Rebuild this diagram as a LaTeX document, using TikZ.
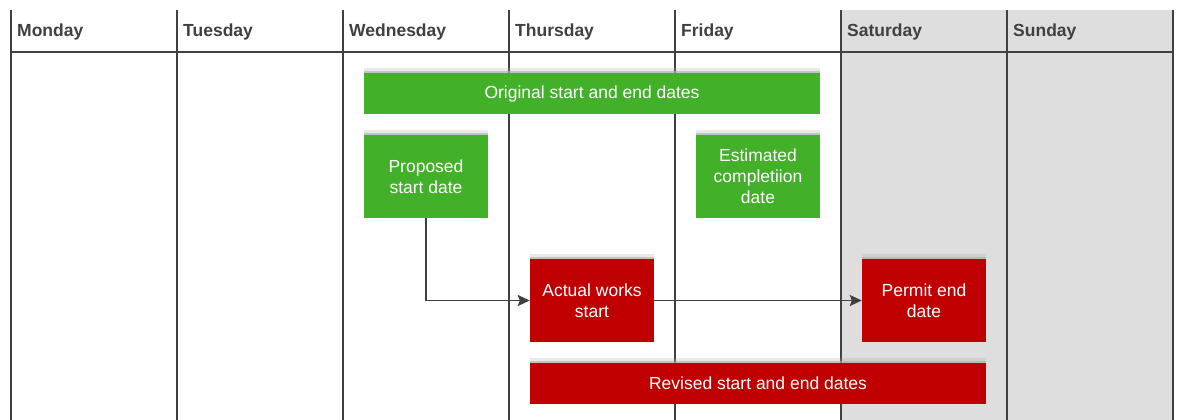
\documentclass[tikz,border=0pt]{standalone}
\usepackage{fontspec}
\setmainfont{Liberation Sans}
\usetikzlibrary{arrows.meta}
\definecolor{ln}{HTML}{404040}
\definecolor{grn}{HTML}{43B02A}
\definecolor{rd}{HTML}{C00000}
\definecolor{wkend}{HTML}{DEDEDE}
\definecolor{shd}{HTML}{AAAAAA}
\tikzset{
  grid/.style={draw=ln,line width=1.3pt},
  day/.style={anchor=base west,text=ln,font=\fontsize{17.5}{21}\selectfont\bfseries,inner sep=0pt},
  box/.style={inner sep=0pt,text=white,align=center,font=\fontsize{17.5}{21}\selectfont},
  gbox/.style={box,fill=grn},
  rbox/.style={box,fill=rd},
  flowarrow/.style={draw=ln,line width=1.8pt,arrows={-Stealth[length=12pt,width=11pt,inset=2pt]}},
  shadowouter/.style={draw=shd,line width=5pt,opacity=0.25},
  shadowinner/.style={draw=shd,line width=2pt,opacity=0.6}
}
\begin{document}
\begin{tikzpicture}[x=1pt,y=1pt]
\useasboundingbox (0,0) rectangle (1178,-420);
\fill[white] (0,0) rectangle (1178,-420);
\fill[wkend] (841,-10) rectangle (1173,-420);
\foreach \x in {11,177,343,509,675,841,1007,1173}
  \draw[grid] (\x,-10) -- (\x,-420);
\draw[grid] (11,-52) -- (1173,-52);
\node[day] (mon) at (17,-37) {Monday};
\node[day] (tue) at (183,-37) {Tuesday};
\node[day] (wed) at (349,-37) {Wednesday};
\node[day] (thu) at (515,-37) {Thursday};
\node[day] (fri) at (681,-37) {Friday};
\node[day] (sat) at (847,-37) {Saturday};
\node[day] (sun) at (1013,-37) {Sunday};
\node[gbox,minimum width=456pt,minimum height=41pt] (orig) at (592,-93.5) {Original start and end dates};
\node[gbox,minimum width=124pt,minimum height=83pt] (prop) at (426,-176.5) {Proposed\\start date};
\node[gbox,minimum width=124pt,minimum height=83pt] (est) at (758,-176.5) {Estimated\\completiion\\date};
\node[rbox,minimum width=124pt,minimum height=83pt] (act) at (592,-300.5) {Actual works\\start};
\node[rbox,minimum width=124pt,minimum height=83pt] (perm) at (924,-300.5) {Permit end\\date};
\node[rbox,minimum width=456pt,minimum height=41pt] (rev) at (758,-383.5) {Revised start and end dates};
\foreach \n in {orig,prop,est,act,perm,rev}{
  \draw[shadowouter] ([yshift=2.5pt]\n.north west) -- ([yshift=2.5pt]\n.north east);
  \draw[shadowinner] ([yshift=1.2pt]\n.north west) -- ([yshift=1.2pt]\n.north east);
}
\draw[flowarrow] (prop.south) |- (act.west);
\draw[flowarrow] (act.east) -- (perm.west);
\end{tikzpicture}
\end{document}
